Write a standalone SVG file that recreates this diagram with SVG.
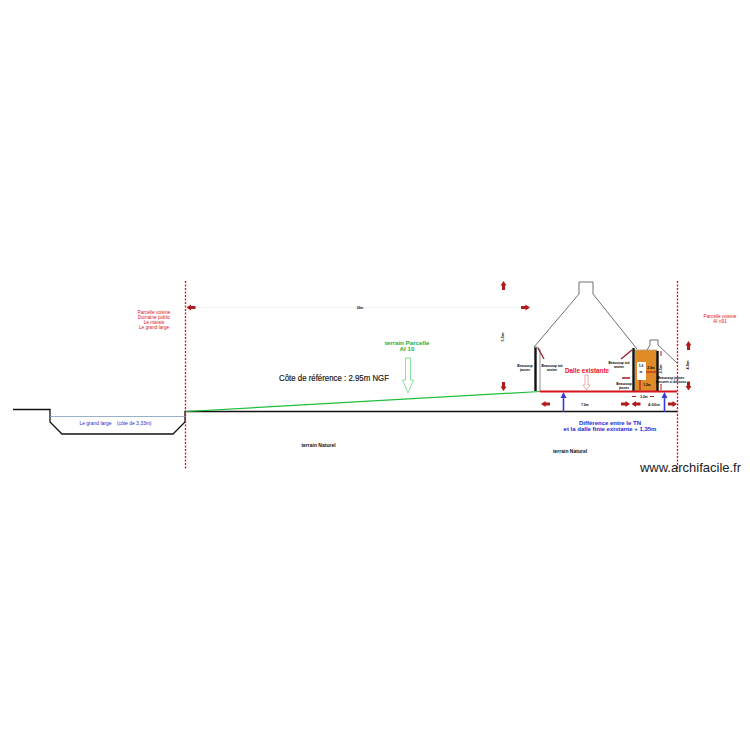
<svg xmlns="http://www.w3.org/2000/svg" width="750" height="750" viewBox="0 0 750 750">
<defs>
<path id="ah" d="M-4.5,-1.500H0V-3L4.500,0L0,3V1.500H-4.500Z" fill="#b01c1c"/>
<style>
text{font-family:"Liberation Sans",Arial,sans-serif;text-anchor:middle}
.r{fill:#e0141e;font-size:4.700px}
.k{fill:#000;font-size:3.200px;font-weight:bold}
.b{fill:#2a2ad0}
.d{fill:#111;font-size:5px;font-weight:bold}
.p{fill:none;stroke:#333;stroke-width:.7}
.lim{stroke:#ff0000;stroke-width:1.300;stroke-dasharray:2 1.500;fill:none}
</style>
</defs>
<rect width="750" height="750" fill="#fff"/>
<g id="terrain">
<path d="M13,409.500H50V422L62,434H173L185,422V411.500H677" fill="none" stroke="#111" stroke-width="1.300"/>
<path d="M50,416.500H185" stroke="#7f9cc0" stroke-width=".8"/>
<path d="M186,411.500L540,391.500" stroke="#1fbf3a" stroke-width="1.200"/>
<line class="lim" x1="185.500" y1="281" x2="185.500" y2="470"/>
<line class="lim" x1="677.500" y1="281" x2="677.500" y2="470"/>
</g>
<g id="maison">
<path class="p" d="M534,347L579,294V282H593V294L637,349"/>
<path d="M535.500,347V391" stroke="#111" stroke-width="2.400"/>
<path d="M535,347H537L540,350V391" fill="none" stroke="#aaa" stroke-width="1.300"/>
<rect x="635" y="350" width="22" height="41" fill="#e08a28" stroke="#b8a080" stroke-width=".8"/>
<rect x="637" y="362" width="9" height="18" fill="#fff"/>
<path d="M633.500,348V391M657.500,351V391" stroke="#111" stroke-width="2.400"/>
<path d="M647,350L650,345V340H658V345L677,363" class="p"/>
<path d="M540,391.500H677" stroke="#d4141e" stroke-width="2"/>
</g>
<g id="connecteurs">
<path d="M190,307.500H525" stroke="#eee" stroke-width=".8"/>
<use href="#ah" transform="translate(191,307.500) rotate(180)"/>
<use href="#ah" transform="translate(525.500,307.500)"/>
<use href="#ah" transform="translate(503.500,285.500) rotate(-90)"/>
<use href="#ah" transform="translate(503.500,386.500) rotate(90)"/>
<use href="#ah" transform="translate(545.500,404) rotate(180)"/>
<use href="#ah" transform="translate(625.500,404)"/>
<use href="#ah" transform="translate(636,404) rotate(180)"/>
<use href="#ah" transform="translate(672.500,404)"/>
<use href="#ah" transform="translate(688.500,345.500) rotate(-90)"/>
<use href="#ah" transform="translate(688.500,386) rotate(90)"/>
<path d="M544,359L538,348M621,359L632,350M622,378L630,378" stroke="#9c1c28" stroke-width="1.300"/>
<path d="M640,380V390M657,372H646" stroke="#b01c1c" stroke-width="1.200"/>
<path d="M661,351V356M661,384V390" stroke="#b01c1c" stroke-width="1"/>
<path d="M632,396.500H636M650,396.500H654" stroke="#b01c1c" stroke-width="1.200"/>
<path d="M563.500,412V396" stroke="#3a3ad8" stroke-width="1.600"/>
<path d="M560.500,398L563.500,392L566.500,398Z" fill="#3a3ad8"/>
<path d="M664.500,412V396" stroke="#3a3ad8" stroke-width="1.600"/>
<path d="M661.500,398L664.500,392L667.500,398Z" fill="#3a3ad8"/>
<path d="M405.500,358H410.500V380H413.500L408,393L402.500,380H405.500Z" fill="#fff" stroke="#5ad070" stroke-width=".7"/>
<path d="M585,375H588V385H590L586.500,390L583,385H585Z" fill="#fff" stroke="#e08a80" stroke-width=".7"/>
</g>
<g id="labels">
<text class="r" x="154" y="314">Parcelle voisine</text>
<text class="r" x="154" y="319">Domaine public</text>
<text class="r" x="154" y="324">Le marais</text>
<text class="r" x="154" y="329">Le grand large</text>
<text class="r" x="720" y="318">Parcelle voisine</text>
<text class="r" x="720" y="323">AI n91</text>
<text class="k" x="360" y="309">30m</text>
<text x="407" y="345" fill="#1fae3c" font-size="6.200" font-weight="bold">terrain Parcelle</text>
<text x="407" y="351" fill="#1fae3c" font-size="6.200" font-weight="bold">AI 10</text>
<text x="334" y="380.500" fill="#111" font-size="8.800" textLength="110" lengthAdjust="spacingAndGlyphs" stroke="#111" stroke-width=".15">Côte de référence : 2.95m  NGF</text>
<text class="b" x="115.500" y="424.500" font-size="5" textLength="72" lengthAdjust="spacing" xml:space="preserve">Le grand large    (côte de 3,33m)</text>
<text class="d" x="318.500" y="447">terrain Naturel</text>
<text class="d" x="570" y="453">terrain Naturel</text>
<text x="587" y="373" fill="#f0101c" font-size="6.300" font-weight="bold">Dalle existante</text>
<text class="k" x="525" y="367">Beaucoup</text>
<text class="k" x="525" y="370.500">jaunes</text>
<text class="k" x="552" y="367">Beaucoup toit</text>
<text class="k" x="552" y="370.500">ancien</text>
<text class="k" x="619" y="364">Beaucoup toit</text>
<text class="k" x="619" y="367.500">ancien</text>
<text class="k" x="624" y="385">Beaucoup</text>
<text class="k" x="624" y="388.500">jaunes</text>
<text class="k" x="671" y="379">Beaucoup jaunes</text>
<text class="k" x="671" y="382.500">mesures ci dessous</text>
<text class="k" x="641" y="367">1.0</text>
<text class="k" x="641" y="373">m</text>
<text class="k" x="651" y="369">2.0m</text>
<text class="k" x="647" y="386">1.2m</text>
<text class="k" x="644" y="397.500">3.2m</text>
<text class="k" x="585" y="405.500">7.0m</text>
<text x="654" y="406" fill="#222" font-size="4.200" font-weight="bold">4.00m</text>
<text class="k" transform="translate(503.500,337) rotate(-90)" style="font-size:4px">5.5m</text>
<text class="k" transform="translate(662,369) rotate(-90)" style="font-size:4px">3.5m</text>
<text class="k" transform="translate(689,365) rotate(-90)" style="font-size:4px">4.0m</text>
<text class="b" x="610" y="425" font-size="6" font-weight="bold">Différence entre le TN</text>
<text class="b" x="610" y="431" font-size="6" font-weight="bold">et la dalle finie existante + 1,35m</text>
<text x="690.500" y="472" fill="#222" font-size="13">www.archifacile.fr</text>
</g>
</svg>
